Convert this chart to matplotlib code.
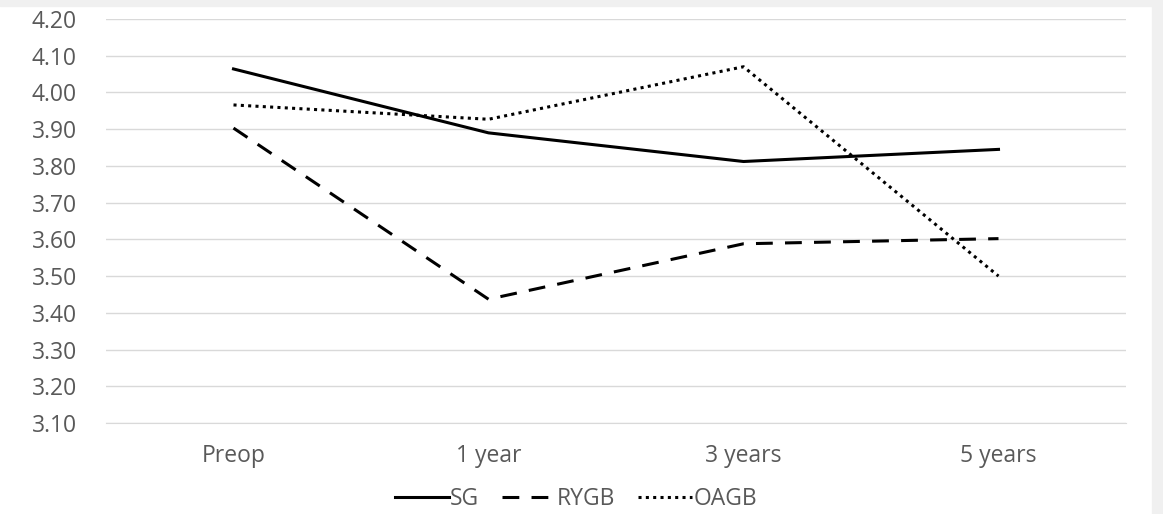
import numpy as np
import matplotlib.pyplot as plt
from matplotlib.patches import Rectangle

# data
timepoints = ["Preop", "1 year", "3 years", "5 years"]
sg = [4.064, 3.89, 3.812, 3.845]
rygb = [3.903, 3.437, 3.588, 3.602]
oagb = [3.966, 3.927, 4.070, 3.500]

grey_txt = "#595959"
plt.rcParams['font.family'] = ['Open Sans', 'DejaVu Sans']

fig = plt.figure(figsize=(11.63, 5.14), dpi=100)
fig.patch.set_facecolor("white")
# light grey frame strips (top and right)
fig.patches.append(Rectangle((0, 1 - 6 / 514), 1, 6 / 514, transform=fig.transFigure,
                             color="#f0f0f0", zorder=0))
fig.patches.append(Rectangle((1152 / 1163, 0), 11 / 1163, 1, transform=fig.transFigure,
                             color="#f0f0f0", zorder=0))

ax = fig.add_axes([106 / 1163, 1 - 423 / 514, 1020 / 1163, 404 / 514])
ax.set_facecolor("none")

x = np.arange(len(timepoints))
ax.plot(x, sg, color="black", lw=2.2, ls="-", label="SG")
ax.plot(x, rygb, color="black", lw=2.2, ls=(0, (5.5, 4)), label="RYGB")
ax.plot(x, oagb, color="black", lw=2.2, ls=(0, (1, 1.4)), label="OAGB")

ax.set_xlim(-0.5, len(timepoints) - 0.5)
ax.set_ylim(3.10, 4.20)
yt = np.arange(3.10, 4.201, 0.10)
ax.set_yticks(yt)
ax.set_yticklabels([f"{v:.2f}" for v in yt])
ax.set_xticks(x)
ax.set_xticklabels(timepoints)
ax.grid(axis="y", color="#d9d9d9", lw=1.0)
ax.set_axisbelow(True)
for s in ax.spines.values():
    s.set_visible(False)
ax.spines["bottom"].set_visible(True)
ax.spines["bottom"].set_color("#d9d9d9")
ax.tick_params(length=0, labelsize=16.5, colors=grey_txt)
ax.tick_params(axis="y", pad=21)
ax.tick_params(axis="x", pad=15)

handles, labels = ax.get_legend_handles_labels()
leg = fig.legend(handles, labels, loc="center", bbox_to_anchor=(576 / 1163, 1 - 499 / 514),
                 ncol=3, frameon=False, fontsize=16.5, handlelength=2.35,
                 handletextpad=0.05, columnspacing=1.0, borderpad=0)
for t in leg.get_texts():
    t.set_color(grey_txt)

fig.savefig("out.png", dpi=100)
